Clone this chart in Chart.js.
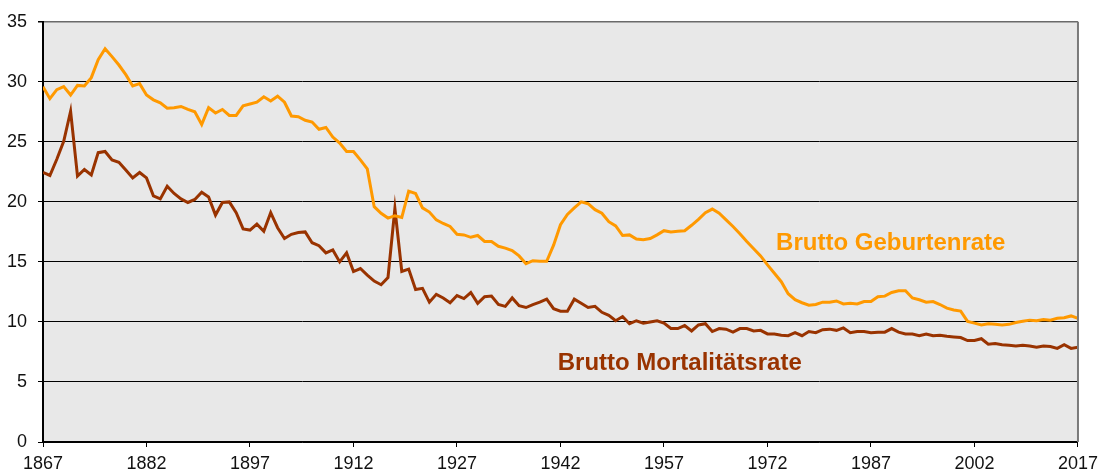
<!DOCTYPE html>
<html>
<head>
<meta charset="utf-8">
<script src="https://cdn.jsdelivr.net/npm/chart.js@4/dist/chart.umd.min.js"></script>
<style>
  html, body { margin: 0; padding: 0; background: #ffffff; }
  #wrap { position: relative; width: 1104px; height: 476px; }
</style>
</head>
<body>
<div id="wrap"><canvas id="c" width="1104" height="476"></canvas></div>
<script>
const startYear = 1867;
const xTickYears = [1867, 1882, 1897, 1912, 1927, 1942, 1957, 1972, 1987, 2002, 2017];
const yTicks = [0, 5, 10, 15, 20, 25, 30, 35];

// Brutto Geburtenrate 1867..2017
const birthRate = [
  29.6, 28.6, 29.35, 29.6, 28.9, 29.7, 29.65, 30.35, 31.85, 32.75,   // 1867-1876
  32.1, 31.4, 30.6, 29.65, 29.85, 28.9, 28.5, 28.25, 27.8, 27.85,    // 1877-1886
  27.95, 27.7, 27.5, 26.45, 27.85, 27.4, 27.7, 27.2, 27.2, 28.0,     // 1887-1896
  28.15, 28.3, 28.75, 28.4, 28.8, 28.3, 27.15, 27.1, 26.8, 26.65,    // 1897-1906
  26.05, 26.2, 25.4, 24.9, 24.2, 24.2, 23.5, 22.75, 19.6, 19.05,     // 1907-1916
  18.65, 18.85, 18.7, 20.9, 20.7, 19.5, 19.15, 18.5, 18.2, 17.95,    // 1917-1926
  17.3, 17.25, 17.05, 17.2, 16.7, 16.7, 16.3, 16.15, 15.95, 15.5,    // 1927-1936
  14.85, 15.1, 15.05, 15.05, 16.4, 18.1, 18.95, 19.5, 20.0, 19.85,   // 1937-1946
  19.35, 19.05, 18.35, 18.0, 17.2, 17.25, 16.9, 16.85, 16.95, 17.25, // 1947-1956
  17.6, 17.5, 17.55, 17.6, 18.05, 18.55, 19.1, 19.4, 19.05, 18.5,    // 1957-1966
  17.95, 17.35, 16.7, 16.1, 15.5, 14.75, 14.05, 13.35, 12.35, 11.85, // 1967-1976
  11.6, 11.4, 11.45, 11.65, 11.65, 11.75, 11.5, 11.55, 11.5, 11.7,   // 1977-1986
  11.7, 12.1, 12.15, 12.45, 12.6, 12.6, 12.0, 11.85, 11.65, 11.7,    // 1987-1996
  11.45, 11.15, 11.0, 10.9, 10.05, 9.9, 9.75, 9.85, 9.8, 9.75,       // 1997-2006
  9.8, 9.95, 10.05, 10.15, 10.1, 10.2, 10.15, 10.3, 10.35, 10.5,     // 2007-2016
  10.3                                                               // 2017
];

// Brutto Mortalitätsrate 1867..2017
const deathRate = [
  22.45, 22.2, 23.55, 25.05, 27.55, 22.15, 22.7, 22.25, 24.1, 24.2,  // 1867-1876
  23.5, 23.3, 22.65, 22.0, 22.45, 22.0, 20.5, 20.25, 21.3, 20.7,     // 1877-1886
  20.25, 19.95, 20.2, 20.8, 20.4, 18.9, 19.95, 20.0, 19.1, 17.75,    // 1887-1896
  17.65, 18.15, 17.55, 19.1, 17.85, 16.95, 17.3, 17.45, 17.5, 16.6,  // 1897-1906
  16.35, 15.75, 16.0, 15.0, 15.75, 14.2, 14.45, 13.9, 13.4, 13.1,    // 1907-1916
  13.7, 19.45, 14.2, 14.4, 12.7, 12.8, 11.65, 12.3, 12.0, 11.6,      // 1917-1926
  12.2, 11.95, 12.45, 11.55, 12.1, 12.15, 11.45, 11.3, 12.0, 11.35,  // 1927-1936
  11.2, 11.45, 11.65, 11.9, 11.1, 10.9, 10.9, 11.9, 11.55, 11.2,     // 1937-1946
  11.3, 10.8, 10.55, 10.1, 10.45, 9.85, 10.1, 9.9, 10.0, 10.1,       // 1947-1956
  9.9, 9.45, 9.45, 9.7, 9.25, 9.75, 9.85, 9.2, 9.45, 9.4,            // 1957-1966
  9.15, 9.45, 9.45, 9.25, 9.3, 9.0, 9.0, 8.9, 8.85, 9.1,             // 1967-1976
  8.85, 9.2, 9.1, 9.35, 9.4, 9.3, 9.5, 9.1, 9.2, 9.2,                // 1977-1986
  9.1, 9.15, 9.15, 9.45, 9.15, 9.0, 9.0, 8.85, 9.0, 8.85,            // 1987-1996
  8.9, 8.8, 8.75, 8.7, 8.45, 8.45, 8.6, 8.15, 8.2, 8.1,              // 1997-2006
  8.05, 8.0, 8.05, 8.0, 7.9, 8.0, 7.95, 7.8, 8.1, 7.8,               // 2007-2016
  7.9                                                                // 2017
];

const years = birthRate.map((_, i) => startYear + i);
const seriesLabels = ['Brutto Geburtenrate', 'Brutto Mortalitätsrate'];

const toPoints = arr => arr.map((v, i) => ({ x: years[i], y: v }));

const FONT_TICK = "'Liberation Sans Narrow', 'Arial Narrow', 'Liberation Sans', Arial, sans-serif";
const FONT_LABEL = "'Liberation Sans', Arial, sans-serif";

const decorPlugin = {
  id: 'decor',
  beforeDraw(chart) {
    const { ctx, chartArea: a } = chart;
    ctx.save();
    ctx.fillStyle = '#e8e8e8';
    ctx.fillRect(a.left, a.top, a.right - a.left, a.bottom - a.top);
    ctx.restore();
  },
  afterDatasetsDraw(chart) {
    const { ctx, chartArea: a, scales } = chart;
    ctx.save();
    // right border
    ctx.strokeStyle = '#7a7a7a';
    ctx.lineWidth = 2;
    ctx.beginPath();
    ctx.moveTo(a.right, a.top);
    ctx.lineTo(a.right, a.bottom);
    ctx.stroke();
    // series labels
    ctx.font = "bold 24px " + FONT_LABEL;
    ctx.textAlign = 'left';
    ctx.textBaseline = 'alphabetic';
    ctx.fillStyle = '#ff9900';
    ctx.fillText(seriesLabels[0], scales.x.getPixelForValue(1973.25), scales.y.getPixelForValue(16.03));
    ctx.fillStyle = '#993300';
    ctx.fillText(seriesLabels[1], scales.x.getPixelForValue(1941.6), scales.y.getPixelForValue(5.98));
    ctx.restore();
  }
};

new Chart(document.getElementById('c'), {
  type: 'line',
  data: {
    datasets: [
      {
        label: seriesLabels[0],
        data: toPoints(birthRate),
        borderColor: '#ff9900',
        borderWidth: 3,
        pointRadius: 0,
        tension: 0,
        fill: false
      },
      {
        label: seriesLabels[1],
        data: toPoints(deathRate),
        borderColor: '#993300',
        borderWidth: 3,
        pointRadius: 0,
        tension: 0,
        fill: false
      }
    ]
  },
  options: {
    responsive: false,
    animation: false,
    devicePixelRatio: 1,
    layout: { padding: { left: 0, right: 21, top: 15, bottom: 0 } },
    plugins: {
      legend: { display: false },
      tooltip: { enabled: false }
    },
    scales: {
      x: {
        type: 'linear',
        min: startYear,
        max: 2017,
        afterBuildTicks: s => { s.ticks = xTickYears.map(v => ({ value: v })); },
        afterFit: s => { s.height = 34; },
        ticks: {
          callback: v => String(v),
          color: '#111',
          font: { family: FONT_TICK, size: 18 },
          padding: 6,
          maxRotation: 0,
          autoSkip: false
        },
        grid: {
          drawOnChartArea: false,
          drawTicks: true,
          tickLength: 5,
          tickColor: '#000'
        },
        border: { color: '#000', width: 1.5 }
      },
      y: {
        min: 0,
        max: 35,
        afterBuildTicks: s => { s.ticks = yTicks.map(v => ({ value: v })); },
        afterFit: s => { s.width = 43; },
        ticks: {
          color: '#111',
          font: { family: FONT_TICK, size: 18 },
          padding: 11
        },
        grid: {
          color: c => (c.tick && c.tick.value === 35) ? '#6a6a6a' : '#000',
          lineWidth: c => (c.tick && c.tick.value === 35) ? 1.5 : 1,
          drawTicks: true,
          tickLength: 5,
          tickColor: '#000'
        },
        border: { color: '#000', width: 2 }
      }
    }
  },
  plugins: [decorPlugin]
});
</script>
</body>
</html>
